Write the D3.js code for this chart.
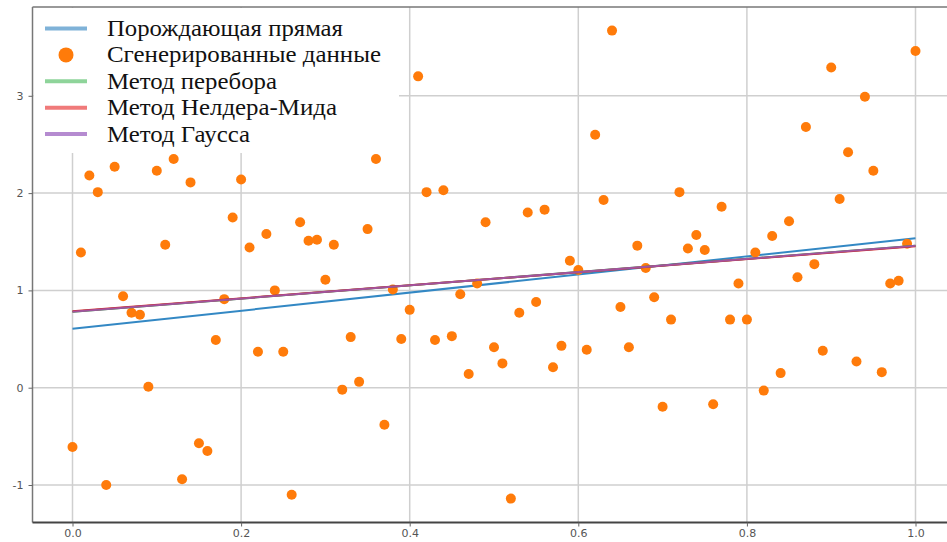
<!DOCTYPE html>
<html>
<head>
<meta charset="utf-8">
<script src="https://cdn.jsdelivr.net/npm/d3@7"></script>
<style>
  html, body { margin: 0; padding: 0; background: #fff; }
  svg { display: block; }
</style>
</head>
<body>
<div id="chart"></div>
<script>
// generated points: x = i / 100
const pointsY = [
  -0.61, 1.39, 2.18, 2.01, -1.00, 2.27, 0.94, 0.77, 0.75, 0.01,
  2.23, 1.47, 2.35, -0.94, 2.11, -0.57, -0.65, 0.49, 0.91, 1.75,
  2.14, 1.44, 0.37, 1.58, 1.00, 0.37, -1.10, 1.70, 1.51, 1.52,
  1.11, 1.47, -0.02, 0.52, 0.06, 1.63, 2.35, -0.38, 1.01, 0.50,
  0.80, 3.20, 2.01, 0.49, 2.03, 0.53, 0.96, 0.14, 1.07, 1.70,
  0.415, 0.25, -1.14, 0.77, 1.80, 0.88, 1.83, 0.21, 0.43, 1.305,
  1.21, 0.39, 2.60, 1.93, 3.67, 0.83, 0.415, 1.46, 1.23, 0.93,
  -0.195, 0.70, 2.01, 1.43, 1.57, 1.415, -0.17, 1.86, 0.70, 1.07,
  0.70, 1.39, -0.03, 1.56, 0.15, 1.71, 1.135, 2.68, 1.27, 0.38,
  3.29, 1.94, 2.42, 0.27, 2.99, 2.23, 0.16, 1.07, 1.10, 1.48,
  3.46
];
const pointsX = pointsY.map((d, i) => i / 100);

// fitted lines: [y at x=0, y at x=1]
const lineNames = ["Порождающая прямая", "Метод перебора", "Метод Нелдера-Мида", "Метод Гаусса"];
const lineEnds = [[0.605, 1.535], [0.78, 1.46], [0.785, 1.455], [0.78, 1.46]];
const lineColors = ["#3388c4", "#2ca02c", "#d62728", "#9a5ab0"];
const legendColors = ["#7fb2d8", "#8ed49a", "#f07a7a", "#b58bd0"];
const scatterName = "Сгенерированные данные";

const xTicks = [0.0, 0.2, 0.4, 0.6, 0.8, 1.0];
const yTicks = [-1, 0, 1, 2, 3];

const W = 947, H = 542;
const svg = d3.select('#chart').append('svg')
  .attr('width', W)
  .attr('height', H);

const axLeft = 32.5, axTop = 7, axBottom = 522.5;
const x = d3.scaleLinear().domain([0, 1]).range([72.5, 915.5]);
const y = d3.scaleLinear().domain([0, 3]).range([387.7, 95.8]);
const axRight = x(1.05);

const plot = svg.append('g');

// grid
plot.append('g').selectAll('line')
  .data(xTicks).enter().append('line')
  .attr('x1', d => x(d)).attr('x2', d => x(d))
  .attr('y1', axTop).attr('y2', axBottom)
  .attr('stroke', '#cfcfcf').attr('stroke-width', 1.5);
plot.append('g').selectAll('line')
  .data(yTicks).enter().append('line')
  .attr('x1', axLeft).attr('x2', axRight)
  .attr('y1', d => y(d)).attr('y2', d => y(d))
  .attr('stroke', '#cfcfcf').attr('stroke-width', 1.5);

// generating line below the dots
const lineGen = d3.line().x(d => x(d[0])).y(d => y(d[1]));
plot.append('path')
  .attr('d', lineGen([[0, lineEnds[0][0]], [1, lineEnds[0][1]]]))
  .attr('fill', 'none')
  .attr('stroke', lineColors[0])
  .attr('stroke-width', 2);

// dots
plot.append('g').selectAll('circle')
  .data(pointsY).enter().append('circle')
  .attr('cx', (d, i) => x(pointsX[i]))
  .attr('cy', d => y(d))
  .attr('r', 5)
  .attr('fill', '#ff7b0a');

// method lines
[1, 2, 3].forEach(k => {
  plot.append('path')
    .attr('d', lineGen([[0, lineEnds[k][0]], [1, lineEnds[k][1]]]))
    .attr('fill', 'none')
    .attr('stroke', lineColors[k])
    .attr('stroke-width', 2)
    .attr('opacity', k === 3 ? 0.85 : 1);
});

// legend box covers the grid
const leg = svg.append('g');
leg.append('rect')
  .attr('x', axLeft + 1).attr('y', axTop + 1)
  .attr('width', 399 - axLeft - 1).attr('height', 153 - axTop - 1)
  .attr('fill', '#fff');

// text widths measured on the picture
const legendRows = [
  { name: lineNames[0], color: legendColors[0], kind: 'line', w: 236 },
  { name: scatterName, color: '#ff7b0a', kind: 'dot', w: 274 },
  { name: lineNames[1], color: legendColors[1], kind: 'line', w: 170 },
  { name: lineNames[2], color: legendColors[2], kind: 'line', w: 230 },
  { name: lineNames[3], color: legendColors[3], kind: 'line', w: 143 }
];
const row = leg.selectAll('g.row')
  .data(legendRows).enter().append('g')
  .attr('class', 'row')
  .attr('transform', (d, i) => 'translate(0,' + (28.5 + i * 26.4) + ')');
row.filter(d => d.kind === 'line').append('line')
  .attr('x1', 45).attr('x2', 87).attr('y1', 0).attr('y2', 0)
  .attr('stroke', d => d.color).attr('stroke-width', 4);
row.filter(d => d.kind === 'dot').append('circle')
  .attr('cx', 66).attr('cy', 0).attr('r', 7.5)
  .attr('fill', d => d.color);
row.append('text')
  .attr('x', 107).attr('y', 7.5)
  .attr('font-family', '"Liberation Serif", "Times New Roman", serif')
  .attr('font-size', 23.5)
  .attr('fill', '#111')
  .attr('textLength', d => d.w)
  .attr('lengthAdjust', 'spacingAndGlyphs')
  .text(d => d.name);

// spines
svg.append('line').attr('x1', axLeft).attr('x2', axLeft).attr('y1', axTop).attr('y2', axBottom)
  .attr('stroke', '#777').attr('stroke-width', 1.5);
svg.append('line').attr('x1', axLeft).attr('x2', axRight).attr('y1', axTop).attr('y2', axTop)
  .attr('stroke', '#777').attr('stroke-width', 1.5);
svg.append('line').attr('x1', axLeft).attr('x2', axRight).attr('y1', axBottom).attr('y2', axBottom)
  .attr('stroke', '#444').attr('stroke-width', 2);

// axes
const xAxis = d3.axisBottom(x).tickValues(xTicks).tickFormat(d3.format('.1f')).tickSize(4).tickPadding(3);
const yAxis = d3.axisLeft(y).tickValues(yTicks).tickFormat(d => String(d)).tickSize(4).tickPadding(5);
const gx = svg.append('g').attr('transform', 'translate(0,' + axBottom + ')').call(xAxis);
const gy = svg.append('g').attr('transform', 'translate(' + axLeft + ',0)').call(yAxis);
[gx, gy].forEach(g => {
  g.select('.domain').remove();
  g.selectAll('line').attr('stroke', '#666');
  g.selectAll('text')
    .attr('fill', '#555')
    .attr('font-family', '"DejaVu Sans", sans-serif')
    .attr('font-size', 11);
});
</script>
</body>
</html>
